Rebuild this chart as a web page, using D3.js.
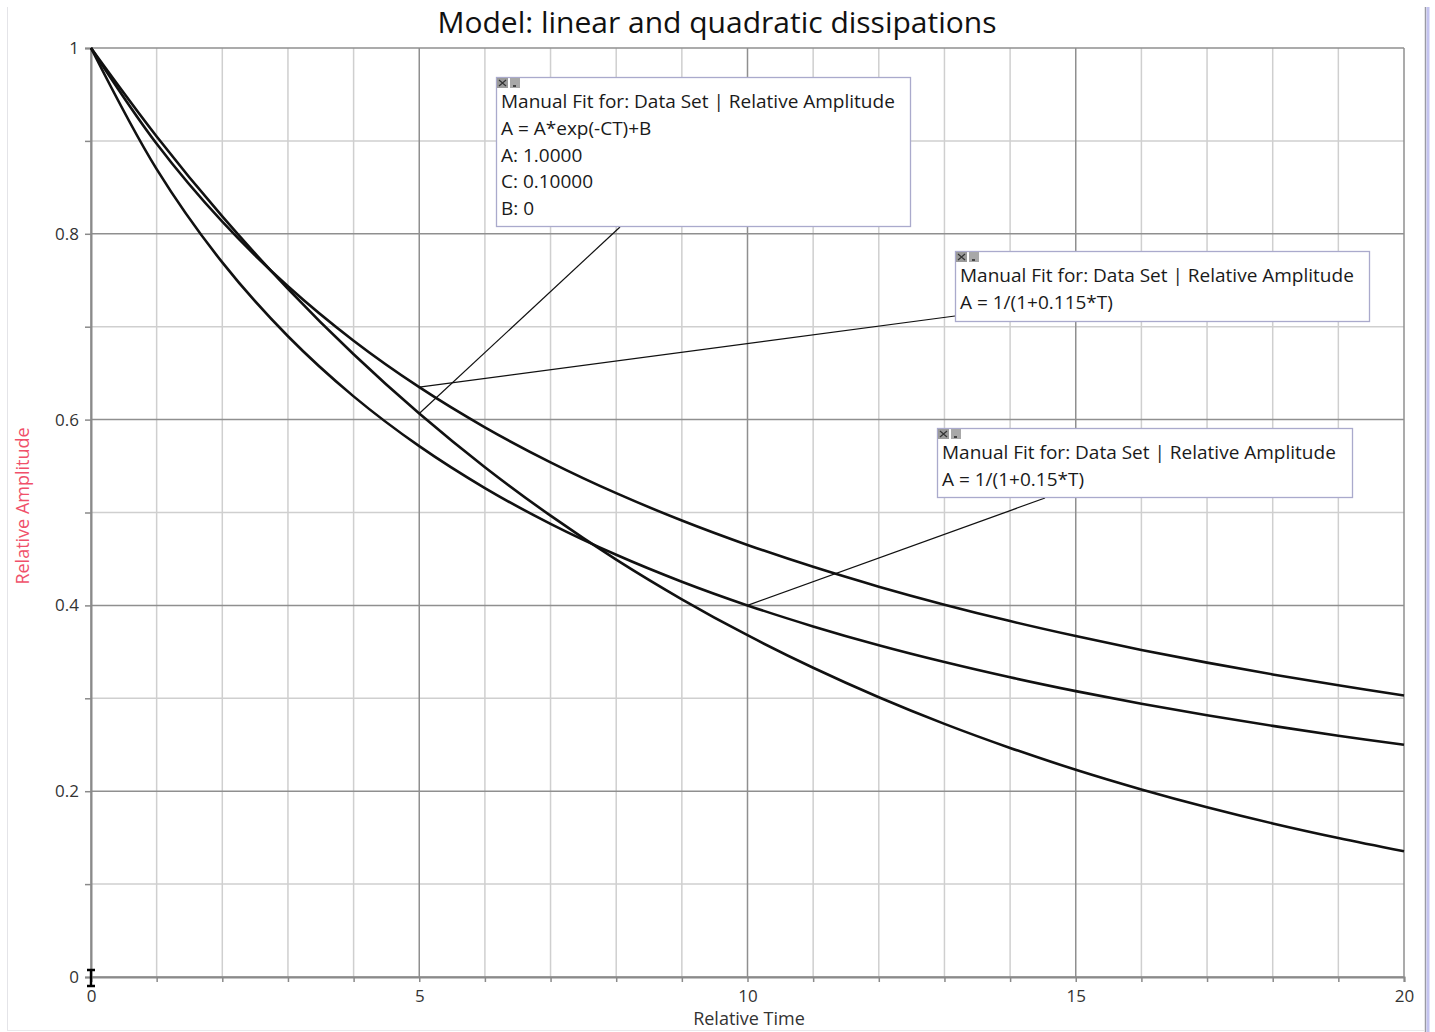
<!DOCTYPE html>
<html>
<head>
<meta charset="utf-8">
<script src="https://cdn.jsdelivr.net/npm/d3@7"></script>
<style>
  html, body { margin: 0; padding: 0; background: #fff; }
  svg { display: block; }
</style>
</head>
<body>
<svg id="chart" width="1435" height="1032"></svg>
<script>
// Sample times (Relative Time)
const times = [0, 1, 2, 3, 4, 5, 6, 7, 8, 9, 10, 11, 12, 13, 14, 15, 16, 17, 18, 19, 20];

// Linear dissipation: A = 1.0*exp(-0.1 T)
const expDecay = [1.0000, 0.9048, 0.8187, 0.7408, 0.6703, 0.6065, 0.5488, 0.4966, 0.4493, 0.4066,
                  0.3679, 0.3329, 0.3012, 0.2725, 0.2466, 0.2231, 0.2019, 0.1827, 0.1653, 0.1496, 0.1353];

// Quadratic dissipation: A = 1/(1+0.115 T)
const quad115 = [1.0000, 0.8969, 0.8130, 0.7435, 0.6849, 0.6349, 0.5917, 0.5540, 0.5208, 0.4914,
                 0.4651, 0.4415, 0.4202, 0.4008, 0.3831, 0.3670, 0.3521, 0.3384, 0.3257, 0.3140, 0.3030];

// Quadratic dissipation: A = 1/(1+0.15 T)
const quad15 = [1.0000, 0.8696, 0.7692, 0.6897, 0.6250, 0.5714, 0.5263, 0.4878, 0.4545, 0.4255,
                0.4000, 0.3774, 0.3571, 0.3390, 0.3226, 0.3077, 0.2941, 0.2817, 0.2703, 0.2597, 0.2500];

// Axis ticks
const xMajorTicks = [0, 5, 10, 15, 20];
const xMinorTicks = d3.range(0, 21, 1);
const yMajorTicks = [0, 0.2, 0.4, 0.6, 0.8, 1];
const yMinorTicks = d3.range(0, 1.0001, 0.1).map(v => +v.toFixed(1));
const yTickLabels = ["0", "0.2", "0.4", "0.6", "0.8", "1"];
const xTickLabels = ["0", "5", "10", "15", "20"];

// Fit annotation texts
const fitExpLines = ["Manual Fit for: Data Set | Relative Amplitude", "A = A*exp(-CT)+B", "A: 1.0000", "C: 0.10000", "B: 0"];
const fit115Lines = ["Manual Fit for: Data Set | Relative Amplitude", "A = 1/(1+0.115*T)"];
const fit15Lines  = ["Manual Fit for: Data Set | Relative Amplitude", "A = 1/(1+0.15*T)"];

const svg = d3.select("#chart");
const W = 1435, H = 1032;
const margin = { left: 91, top: 48, right: W - 1404, bottom: H - 977 };
const x = d3.scaleLinear().domain([0, 20]).range([margin.left, W - margin.right]);
const y = d3.scaleLinear().domain([0, 1]).range([H - margin.bottom, margin.top]);

const UIFONT = "'Open Sans', 'Noto Sans', sans-serif";

// Window frame lines
svg.append("line").attr("x1", 7.5).attr("x2", 7.5).attr("y1", 7).attr("y2", 1031)
  .attr("stroke", "#e4e4e8").attr("stroke-width", 1);
svg.append("line").attr("x1", 7).attr("x2", 1424).attr("y1", 1030.5).attr("y2", 1030.5)
  .attr("stroke", "#e8e8ec").attr("stroke-width", 1);
svg.append("line").attr("x1", 1425.5).attr("x2", 1425.5).attr("y1", 7).attr("y2", 1032)
  .attr("stroke", "#9a9aa4").attr("stroke-width", 1.5);
svg.append("rect").attr("x", 1426.5).attr("y", 7).attr("width", 3).attr("height", 1025)
  .attr("fill", "#c4c4f0");

// Minor grid
const grid = svg.append("g");
grid.selectAll(".xmin").data(xMinorTicks.filter(t => !xMajorTicks.includes(t))).join("line")
  .attr("x1", d => x(d)).attr("x2", d => x(d)).attr("y1", y(1)).attr("y2", y(0))
  .attr("stroke", "#cfcfcf").attr("stroke-width", 1.5);
grid.selectAll(".ymin").data(yMinorTicks.filter(t => !yMajorTicks.some(m => Math.abs(m - t) < 1e-9))).join("line")
  .attr("x1", x(0)).attr("x2", x(20)).attr("y1", d => y(d)).attr("y2", d => y(d))
  .attr("stroke", "#cfcfcf").attr("stroke-width", 1.5);
// Major grid
grid.selectAll(".xmaj").data(xMajorTicks).join("line")
  .attr("x1", d => x(d)).attr("x2", d => x(d)).attr("y1", y(1)).attr("y2", y(0))
  .attr("stroke", "#8f8f8f").attr("stroke-width", 1.5);
grid.selectAll(".ymaj").data(yMajorTicks).join("line")
  .attr("x1", x(0)).attr("x2", x(20)).attr("y1", d => y(d)).attr("y2", d => y(d))
  .attr("stroke", "#8f8f8f").attr("stroke-width", 1.5);

// Axes
const yAxis = d3.axisLeft(y).tickValues(yMinorTicks).tickSize(6).tickPadding(6)
  .tickFormat(d => {
    const i = yMajorTicks.findIndex(m => Math.abs(m - d) < 1e-9);
    return i >= 0 ? yTickLabels[i] : "";
  });
const gy = svg.append("g").attr("transform", `translate(${x(0)},0)`).call(yAxis);
const xAxis = d3.axisBottom(x).tickValues(xMinorTicks).tickSize(5).tickPadding(8)
  .tickFormat(d => {
    const i = xMajorTicks.indexOf(d);
    return i >= 0 ? xTickLabels[i] : "";
  });
const gx = svg.append("g").attr("transform", `translate(0,${y(0)})`).call(xAxis);
[gx, gy].forEach(g => {
  g.attr("font-size", null).attr("font-family", null);
  g.select(".domain").attr("stroke", "#8a8a8a").attr("stroke-width", 2);
  g.selectAll(".tick line").attr("stroke", "#8a8a8a").attr("stroke-width", 1.5);
  g.selectAll(".tick text").attr("fill", "#333").style("font-family", UIFONT).style("font-size", "17px");
});

// Curves
const line = d3.line().x((d, i) => x(times[i])).y(d => y(d)).curve(d3.curveCatmullRom.alpha(0.5));
[expDecay, quad115, quad15].forEach(series => {
  svg.append("path").datum(series).attr("d", line)
    .attr("fill", "none").attr("stroke", "#111").attr("stroke-width", 2.6);
});

// Annotation boxes
function fitBox(lines, bx, by, bw, bh, anchor, from) {
  const g = svg.append("g");
  g.append("line").attr("x1", from[0]).attr("y1", from[1])
    .attr("x2", x(anchor[0])).attr("y2", y(anchor[1]))
    .attr("stroke", "#111").attr("stroke-width", 1.2);
  g.append("rect").attr("x", bx + 0.5).attr("y", by + 0.5).attr("width", bw).attr("height", bh)
    .attr("fill", "#fff").attr("stroke", "#aaaacc").attr("stroke-width", 1.3);
  // small window buttons
  g.append("rect").attr("x", bx + 1).attr("y", by + 1).attr("width", 11).attr("height", 10).attr("fill", "#9a9a9a");
  g.append("path").attr("d", `M${bx + 3},${by + 3}L${bx + 10},${by + 9}M${bx + 10},${by + 3}L${bx + 3},${by + 9}`)
    .attr("stroke", "#333").attr("stroke-width", 1.2);
  g.append("rect").attr("x", bx + 14).attr("y", by + 1).attr("width", 10).attr("height", 10).attr("fill", "#a8a8a8");
  g.append("rect").attr("x", bx + 17).attr("y", by + 8).attr("width", 3).attr("height", 2).attr("fill", "#444");
  g.selectAll("text").data(lines).join("text")
    .attr("x", bx + 5).attr("y", (d, i) => by + 31 + i * 26.8)
    .attr("fill", "#1a1a1a").style("font-family", UIFONT).style("font-size", "19px")
    .text(d => d);
}
fitBox(fitExpLines, 496, 77, 414, 149, [times[5], expDecay[5]], [620, 227]);
fitBox(fit115Lines, 955, 251, 414, 70, [times[5], quad115[5]], [955, 316]);
fitBox(fit15Lines, 937, 428, 415, 69, [times[10], quad15[10]], [1045, 498]);

// I-beam cursor at origin
svg.append("path")
  .attr("d", `M${x(0) - 4},${y(0) - 7}H${x(0) + 4}M${x(0)},${y(0) - 7}V${y(0) + 9}M${x(0) - 4},${y(0) + 9}H${x(0) + 4}`)
  .attr("stroke", "#000").attr("stroke-width", 2.4).attr("fill", "none");

// Titles
svg.append("text").attr("x", 717).attr("y", 33).attr("text-anchor", "middle")
  .attr("fill", "#111").style("font-family", UIFONT).style("font-size", "30px")
  .text("Model: linear and quadratic dissipations");
svg.append("text").attr("x", 749).attr("y", 1025).attr("text-anchor", "middle")
  .attr("fill", "#333").style("font-family", UIFONT).style("font-size", "18px")
  .text("Relative Time");
svg.append("text").attr("transform", "translate(29,506) rotate(-90)").attr("text-anchor", "middle")
  .attr("fill", "#f0506a").style("font-family", UIFONT).style("font-size", "18px")
  .text("Relative Amplitude");
</script>
</body>
</html>
